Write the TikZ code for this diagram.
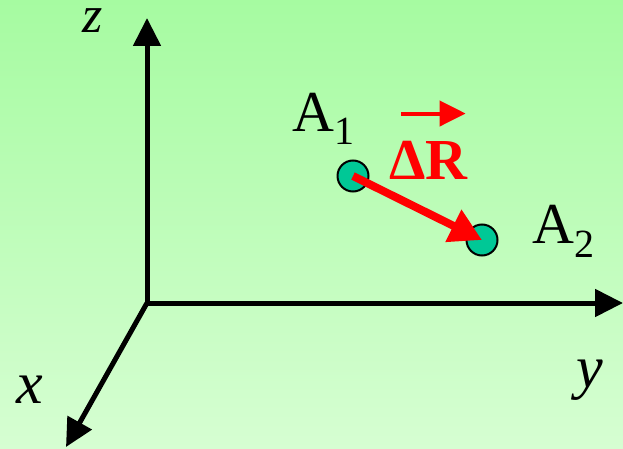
\documentclass[tikz,border=0pt]{standalone}
\usepackage{fontspec}
\setmainfont{Liberation Serif}
\usetikzlibrary{arrows.meta, positioning}
\definecolor{bgtop}{RGB}{166,251,161}
\definecolor{bgbot}{RGB}{214,254,210}
\definecolor{atomfill}{RGB}{0,200,150}
\definecolor{vecred}{RGB}{255,0,0}

\begin{document}
\begin{tikzpicture}[
			x=1pt, y=-1pt,
			%% Node styles
			atom/.style={circle, draw=black, line width=2pt, fill=atomfill,
				minimum size=31pt, inner sep=0pt},
			axislbl/.style={font=\fontsize{60}{60}\selectfont\itshape,
				inner sep=0pt, anchor=base west},
			atomlbl/.style={font=\fontsize{58}{58}\selectfont,
				inner sep=0pt, anchor=base west},
			veclbl/.style={font=\fontsize{58}{58}\selectfont\bfseries,
				text=vecred, inner sep=0pt, anchor=base west},
			%% Arrow styles
			axis/.style={-{Triangle[length=28pt,width=27pt]}, line width=5pt},
			vec/.style={-{Triangle[length=32pt,width=34pt]}, line width=8pt,
				draw=vecred},
			overvec/.style={-{Triangle[length=26pt,width=25pt]}, line width=4pt,
				draw=vecred},
			]
			
			%% ── Background ───────────────────────────────────────────────────
			\useasboundingbox (0,0) rectangle (623,449);
			\shade[top color=bgtop, bottom color=bgbot] (0,0) rectangle (623,449);
			
			%% ── Axes ─────────────────────────────────────────────────────────
			\coordinate (O)    at (147,303);
			\coordinate (zend) at (147,18);
			\coordinate (yend) at (623,303);
			\coordinate (xend) at (66,447);
			
			\draw[axis] (O) -- (zend);
			\draw[axis] (O) -- (yend);
			\draw[axis] (O) -- (xend);
			
			\node[axislbl, font=\fontsize{52}{52}\selectfont\itshape] (zlbl) at (82,33) {z};
			\node[axislbl] (ylbl) at (576,387) {y};
			\node[axislbl] (xlbl) at (16,403) {x};
			
			%% ── Atoms and displacement ───────────────────────────────────────
			\node[atom] (A1) at (353,176) {};
			\node[atom] (A2) at (482,240) {};
			
			\draw[vec] (A1.center) -- (A2.center);
			
			\node[atomlbl] (A1lbl) at (292,132)
			{A\raisebox{-13pt}{\fontsize{40}{40}\selectfont 1}};
			\node[atomlbl] (A2lbl) at (532,243)
			{A\raisebox{-14pt}{\fontsize{40}{40}\selectfont 2}};
			
			\node[veclbl] (dR) at (389,179) {ΔR};
			\draw[overvec] ([shift={(12,-27)}]dR.north west)
			-- ([shift={(-2,-27)}]dR.north east);
			
		\end{tikzpicture}
\end{document}
